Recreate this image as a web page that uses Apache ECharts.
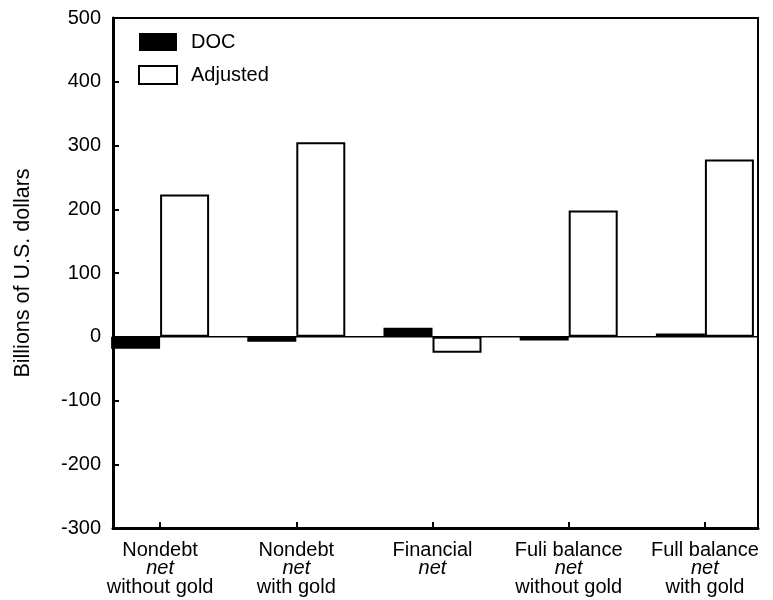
<!DOCTYPE html>
<html>
<head>
<meta charset="utf-8">
<script src="https://cdn.jsdelivr.net/npm/echarts@6/dist/echarts.min.js"></script>
<style>html,body{margin:0;padding:0;background:#fff}#c{width:773px;height:600px}</style>
</head>
<body>
<div id="c"></div>
<script>
const categories = [
  ['Nondebt', 'net', 'without gold'],
  ['Nondebt', 'net', 'with gold'],
  ['Financial', 'net', ''],
  ['Fuli balance', 'net', 'without gold'],
  ['Full balance', 'net', 'with gold']
];
const docValues = [-19, -8, 14, -6, 5];
const adjustedValues = [223, 305, -25, 198, 278];
const yTicks = { min: -300, max: 500, interval: 100 };
const yName = 'Billions of U.S. dollars';

const FONT = '"Liberation Sans", Arial, sans-serif';
const catKeys = categories.map((c, i) => 'c' + i);

const chart = echarts.init(document.getElementById('c'), null, { renderer: 'canvas' });
chart.setOption({
  animation: false,
  textStyle: { fontFamily: FONT, color: '#000' },
  legend: {
    data: ['DOC', 'Adjusted'],
    orient: 'vertical',
    left: 138, top: 32, padding: 0,
    itemWidth: 38, itemHeight: 18, itemGap: 13,
    icon: 'rect',
    textStyle: { fontFamily: FONT, fontSize: 20, color: '#000', padding: [0, 0, 0, 9] }
  },
  grid: [
    { left: 113, right: 15, top: 18, bottom: 72, show: true, borderColor: '#000', borderWidth: 2, backgroundColor: 'transparent' },
    { left: 92, width: 688, top: 18, bottom: 72, show: false }
  ],
  xAxis: [
    { gridIndex: 0, type: 'value', min: 0, max: 1, axisLine: { show: true, onZero: false, lineStyle: { color: '#000', width: 3 } },
      axisTick: { show: false }, axisLabel: { show: false }, splitLine: { show: false } },
    { gridIndex: 1, type: 'category', data: catKeys, position: 'bottom',
      axisLine: { show: false, onZero: false },
      axisTick: { show: true, inside: true, alignWithLabel: true, length: 6, lineStyle: { color: '#000', width: 2 } },
      axisLabel: {
        interval: 0, margin: 13, fontFamily: FONT, fontSize: 20, color: '#000', lineHeight: 18.5,
        formatter: function (v) {
          const c = categories[catKeys.indexOf(v)];
          let s = '{a|' + c[0] + '}\n{i|' + c[1] + '}';
          if (c[2]) s += '\n{a|' + c[2] + '}';
          return s;
        },
        rich: {
          a: { fontFamily: FONT, fontSize: 20, color: '#000', lineHeight: 18.5 },
          i: { fontFamily: FONT, fontSize: 20, color: '#000', fontStyle: 'italic', lineHeight: 18.5 }
        }
      }
    }
  ],
  yAxis: [
    { gridIndex: 0, type: 'value', min: yTicks.min, max: yTicks.max, interval: yTicks.interval,
      name: yName, nameLocation: 'middle', nameGap: 79, nameRotate: 90,
      nameTextStyle: { fontFamily: FONT, fontSize: 21.5, color: '#000' },
      axisLine: { show: true, lineStyle: { color: '#000', width: 3 } },
      axisTick: { show: true, inside: true, length: 6, lineStyle: { color: '#000', width: 2 } },
      axisLabel: { margin: 12, fontFamily: FONT, fontSize: 20, color: '#000' },
      splitLine: { show: false } },
    { gridIndex: 1, type: 'value', min: yTicks.min, max: yTicks.max, interval: yTicks.interval, show: false }
  ],
  series: [
    { name: 'zero', type: 'line', xAxisIndex: 0, yAxisIndex: 0, data: [[0, 0], [1, 0]],
      symbol: 'none', silent: true, lineStyle: { color: '#000', width: 1.5 }, z: 1 },
    { name: 'DOC', type: 'bar', xAxisIndex: 1, yAxisIndex: 1, data: docValues,
      barWidth: 49, barGap: '0%', itemStyle: { color: '#000' }, z: 3 },
    { name: 'Adjusted', type: 'bar', xAxisIndex: 1, yAxisIndex: 1, data: adjustedValues,
      barWidth: 49, barGap: '0%', itemStyle: { color: '#fff', borderColor: '#000', borderWidth: 2 }, z: 3 }
  ]
});
</script>
</body>
</html>
